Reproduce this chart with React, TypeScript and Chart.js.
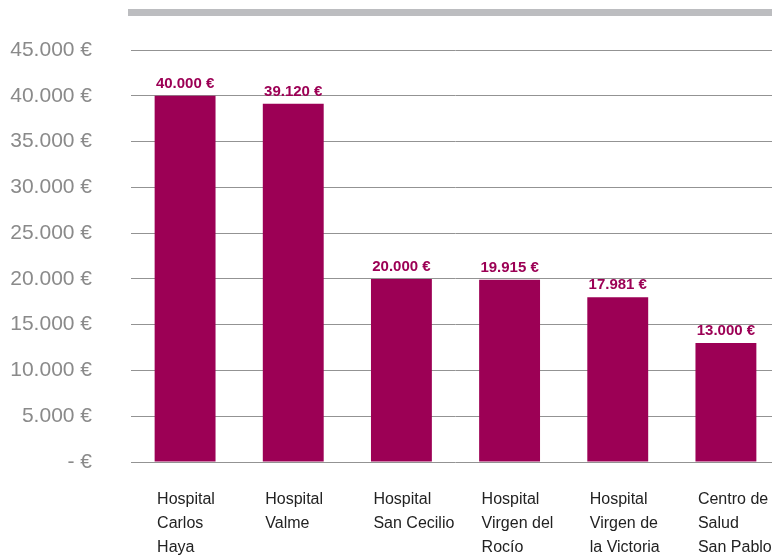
import React, { useEffect, useRef } from "react";
import { Chart, registerables } from "chart.js";

Chart.register(...registerables);

const categories: string[][] = [
  ["Hospital", "Carlos", "Haya"],
  ["Hospital", "Valme"],
  ["Hospital", "San Cecilio"],
  ["Hospital", "Virgen del", "Rocío"],
  ["Hospital", "Virgen de", "la Victoria"],
  ["Centro de", "Salud", "San Pablo"],
];
const values: number[] = [40000, 39120, 20000, 19915, 17981, 13000];
const yTicks: number[] = [0, 5000, 10000, 15000, 20000, 25000, 30000, 35000, 40000, 45000];

const BAR = "#9c0055";
const FONT = "'Liberation Sans', Arial, sans-serif";

function fmt(v: number): string {
  if (v === 0) return "- €";
  const s = Math.round(v).toString().replace(/\B(?=(\d{3})+(?!\d))/g, ".");
  return s + " €";
}

const decor = {
  id: "decor",
  beforeDraw(chart: any) {
    const { ctx, chartArea } = chart;
    ctx.save();
    ctx.fillStyle = "#bcbdc0";
    ctx.fillRect(chartArea.left - 3, 9, chart.width - chartArea.left + 3, 7);
    ctx.restore();
  },
  afterDatasetsDraw(chart: any) {
    const { ctx } = chart;
    const meta = chart.getDatasetMeta(0);
    ctx.save();
    ctx.fillStyle = BAR;
    ctx.font = "bold 15px " + FONT;
    ctx.textAlign = "center";
    ctx.textBaseline = "alphabetic";
    meta.data.forEach((el: any, i: number) => {
      ctx.fillText(fmt(values[i]), el.x, el.y - 8);
    });
    ctx.restore();
  },
};

export default function App() {
  const ref = useRef<HTMLCanvasElement | null>(null);
  useEffect(() => {
    if (!ref.current) return;
    const chart = new Chart(ref.current, {
      type: "bar",
      data: {
        labels: categories,
        datasets: [
          {
            data: values,
            backgroundColor: BAR,
            barPercentage: 0.563,
            categoryPercentage: 1,
          },
        ],
      },
      options: {
        animation: false,
        responsive: true,
        maintainAspectRatio: false,
        layout: { padding: { top: 50, right: 1, left: 0, bottom: 0 } },
        plugins: { legend: { display: false }, tooltip: { enabled: false } },
        scales: {
          x: {
            afterFit: (s: any) => {
              s.height = 95;
              s.paddingLeft = 0;
              s.paddingRight = 0;
            },
            grid: { display: false, drawTicks: false },
            border: { display: false },
            ticks: {
              align: "start",
              labelOffset: -28,
              padding: 26,
              color: "#222",
              font: { family: FONT, size: 16, lineHeight: 1.5 },
              maxRotation: 0,
              autoSkip: false,
            },
          },
          y: {
            min: 0,
            max: 45000,
            afterFit: (s: any) => {
              s.width = 131;
              s.paddingTop = 0;
              s.paddingBottom = 0;
            },
            afterBuildTicks: (s: any) => {
              s.ticks = yTicks.map((v) => ({ value: v }));
            },
            grid: { color: "#939393", lineWidth: 1, drawTicks: false },
            border: { display: false },
            ticks: {
              padding: 39,
              color: "#8a8a8a",
              font: { family: FONT, size: 21 },
              callback: (v: any) => fmt(Number(v)),
            },
          },
        },
      },
      plugins: [decor],
    });
    return () => chart.destroy();
  }, []);
  return (
    <div style={{ position: "fixed", left: 0, top: 0, width: 772, height: 557, overflow: "hidden", background: "#fff" }}>
      <div style={{ position: "relative", width: 781, height: 557 }}>
        <canvas ref={ref} />
      </div>
    </div>
  );
}
